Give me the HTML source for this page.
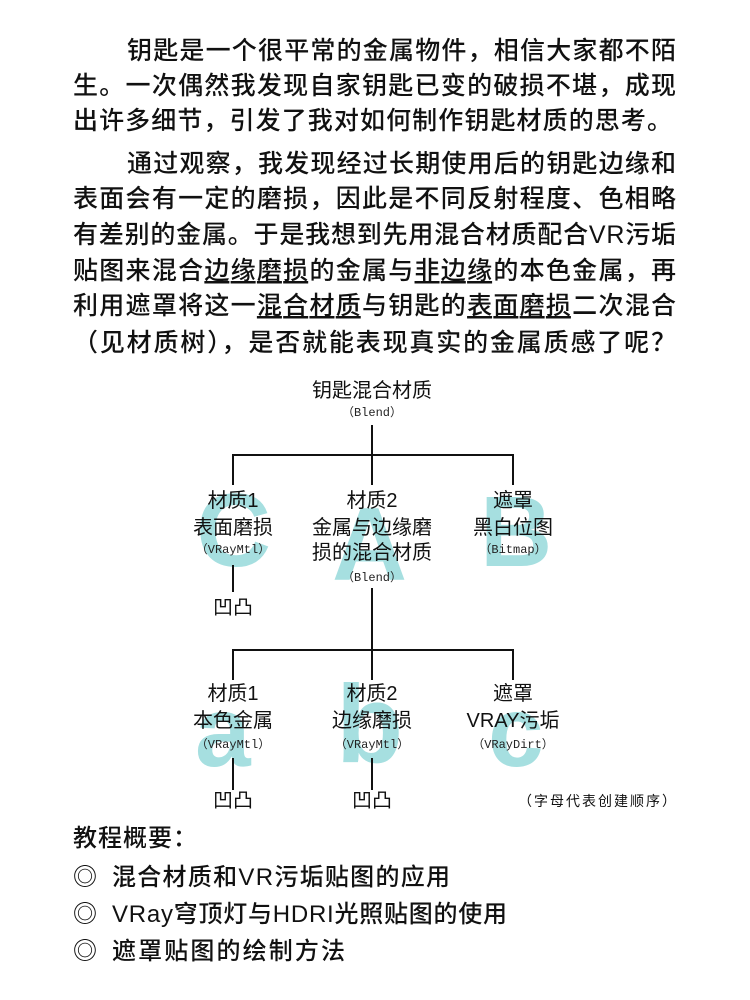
<!DOCTYPE html>
<html><head><meta charset="utf-8"><style>
html,body{margin:0;padding:0;background:#fff;}
svg{display:block;}
.b{font-family:"Liberation Sans","Noto Sans CJK SC",sans-serif;font-size:25px;font-weight:500;fill:#111;}
.u{text-decoration:underline;}
.n{font-family:"Liberation Sans","Noto Sans CJK SC",sans-serif;font-size:20px;fill:#111;}
.m{font-family:"Liberation Mono","Noto Sans CJK SC",monospace;font-size:12px;fill:#222;}
.big{font-family:"Liberation Sans",sans-serif;font-weight:bold;fill:#a6dfe0;}
</style></head><body>
<svg width="750" height="1000" viewBox="0 0 750 1000" xmlns="http://www.w3.org/2000/svg">
<g class="b">
<text x="127" y="59" textLength="549" lengthAdjust="spacing">钥匙是一个很平常的金属物件，相信大家都不陌</text>
<text x="73" y="94" textLength="603" lengthAdjust="spacing">生。一次偶然我发现自家钥匙已变的破损不堪，成现</text>
<text x="73" y="129" textLength="599" lengthAdjust="spacing">出许多细节，引发了我对如何制作钥匙材质的思考。</text>
<text x="127" y="172" textLength="549" lengthAdjust="spacing">通过观察，我发现经过长期使用后的钥匙边缘和</text>
<text x="73" y="207" textLength="603" lengthAdjust="spacing">表面会有一定的磨损，因此是不同反射程度、色相略</text>
<text x="73" y="243" textLength="603" lengthAdjust="spacing">有差别的金属。于是我想到先用混合材质配合VR污垢</text>
<text x="73" y="279" textLength="603" lengthAdjust="spacing">贴图来混合<tspan class="u">边缘磨损</tspan>的金属与<tspan class="u">非边缘</tspan>的本色金属，再</text>
<text x="73" y="314" textLength="603" lengthAdjust="spacing">利用遮罩将这一<tspan class="u">混合材质</tspan>与钥匙的<tspan class="u">表面磨损</tspan>二次混合</text>
<text x="73" y="351" textLength="603" lengthAdjust="spacing">（见材质树），是否就能表现真实的金属质感了呢？</text>
</g>
<g class="big">
<text x="196" y="566" font-size="104">C</text>
<text x="332" y="580" font-size="104">A</text>
<text x="480" y="566" font-size="100">B</text>
<text x="195" y="766" font-size="100">a</text>
<text x="336" y="762" font-size="110">b</text>
<text x="488" y="766" font-size="100">c</text>
</g>
<g stroke="#111" stroke-width="2" fill="none">
<path d="M372 425V455M233 485V455H513V485M372 455V485"/>
<path d="M233 565V592M372 588V650M233 680V650H513V680M372 650V680"/>
<path d="M233 758V790M372 758V790"/>
</g>
<g class="n" text-anchor="middle">
<text x="372" y="397">钥匙混合材质</text>
<text x="233" y="507">材质1</text><text x="233" y="534">表面磨损</text>
<text x="372" y="507">材质2</text><text x="372" y="534">金属与边缘磨</text><text x="372" y="559">损的混合材质</text>
<text x="513" y="507">遮罩</text><text x="513" y="534">黑白位图</text>
<text x="233" y="614">凹凸</text>
<text x="233" y="700">材质1</text><text x="233" y="727">本色金属</text>
<text x="372" y="700">材质2</text><text x="372" y="727">边缘磨损</text>
<text x="513" y="700">遮罩</text><text x="513" y="727">VRAY污垢</text>
<text x="233" y="807">凹凸</text><text x="372" y="807">凹凸</text>
</g>
<g class="m" text-anchor="middle">
<text x="372" y="416">（Blend）</text>
<text x="233" y="553">（VRayMtl）</text>
<text x="372" y="581">（Blend）</text>
<text x="513" y="553">（Bitmap）</text>
<text x="233" y="748">（VRayMtl）</text>
<text x="372" y="748">（VRayMtl）</text>
<text x="513" y="748">（VRayDirt）</text>
</g>
<text x="518" y="806" class="n" style="font-size:14px;letter-spacing:2px">（字母代表创建顺序）</text>
<g class="b" style="font-size:24px">
<text x="73" y="846" letter-spacing="1">教程概要：</text>
<text x="73" y="885">◎</text><text x="112" y="885" textLength="338" lengthAdjust="spacing">混合材质和VR污垢贴图的应用</text>
<text x="73" y="922">◎</text><text x="112" y="922" textLength="395" lengthAdjust="spacing">VRay穹顶灯与HDRI光照贴图的使用</text>
<text x="73" y="959">◎</text><text x="112" y="959" textLength="233" lengthAdjust="spacing">遮罩贴图的绘制方法</text>
</g>
</svg>
</body></html>
